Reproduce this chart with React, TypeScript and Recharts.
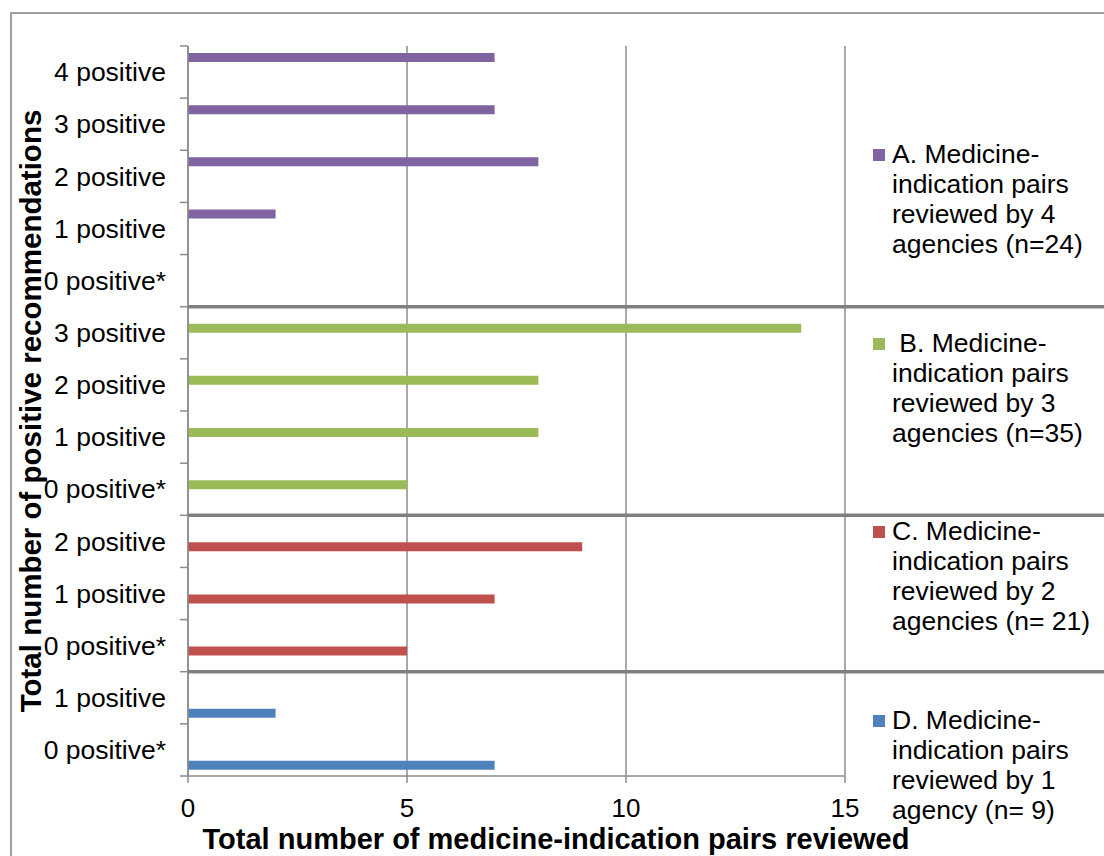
import React from 'react';
import { BarChart, Bar, XAxis, YAxis, CartesianGrid, Legend } from 'recharts';

// ---- data ----
const groupKeys = ['A', 'B', 'C', 'D'];
const groupNames = [
  'A. Medicine-\nindication pairs\nreviewed by 4\nagencies (n=24)',
  ' B. Medicine-\nindication pairs\nreviewed by 3\nagencies (n=35)',
  'C. Medicine-\nindication pairs\nreviewed by 2\nagencies (n= 21)',
  'D. Medicine-\nindication pairs\nreviewed by 1\nagency (n= 9)',
];
const groupColors = ['#8064A2', '#9BBB59', '#C0504D', '#4F81BD'];

const rowsA = ['4 positive', '3 positive', '2 positive', '1 positive', '0 positive*'];
const valuesA = [7, 7, 8, 2, 0];
const rowsB = ['3 positive', '2 positive', '1 positive', '0 positive*'];
const valuesB = [14, 8, 8, 5];
const rowsC = ['2 positive', '1 positive', '0 positive*'];
const valuesC = [9, 7, 5];
const rowsD = ['1 positive', '0 positive*'];
const valuesD = [2, 7];

const xTicks = [0, 5, 10, 15];
const xTitle = 'Total number of medicine-indication pairs reviewed';
const yTitle = 'Total number of positive recommendations';

// ---- build table ----
const groupRows = [rowsA, rowsB, rowsC, rowsD];
const groupValues = [valuesA, valuesB, valuesC, valuesD];
const data: any[] = [];
const labelById: Record<string, string> = {};
const groupStartIds = new Set<string>();
groupKeys.forEach((g, gi) => {
  groupRows[gi].forEach((label, ri) => {
    const id = `${g}${ri}`;
    labelById[id] = label;
    if (ri === 0 && gi > 0) groupStartIds.add(id);
    data.push({ id, [g]: groupValues[gi][ri] });
  });
});
const totalRows = data.length;

// ---- layout ----
const W = 1104;
const H = 856;
const TOP = 46;
const BOTTOM_MARGIN = 20;
const X_AXIS_H = 60;
const Y_AXIS_W = 188;
const PLOT_H = H - TOP - BOTTOM_MARGIN - X_AXIS_H;
const FONT = '"Liberation Sans", Arial, sans-serif';
const GRID = '#8c8c8c';
const SEP = '#808080';

const CatTick = (props: any) => {
  const { y, payload, index } = props;
  const half =
    payload && typeof payload.offset === 'number' && payload.offset > 0
      ? payload.offset
      : PLOT_H / totalRows / 2;
  const label = labelById[payload.value] ?? '';
  const ax = Y_AXIS_W;
  return (
    <g>
      <text
        x={ax - 22}
        y={y}
        dy="0.35em"
        textAnchor="end"
        fontSize={26.5}
        fontFamily={FONT}
        fill="#000"
      >
        {label}
      </text>
      <line x1={ax - 8} x2={ax} y1={y - half} y2={y - half} stroke={GRID} strokeWidth={1.5} />
      {index === totalRows - 1 && (
        <line x1={ax - 8} x2={ax} y1={y + half} y2={y + half} stroke={GRID} strokeWidth={1.5} />
      )}
      {groupStartIds.has(payload.value) && (
        <line x1={ax} x2={W} y1={y - half} y2={y - half} stroke={SEP} strokeWidth={3.5} />
      )}
    </g>
  );
};

const renderLegend = (props: any) => {
  const payload = (props.payload || []).slice();
  payload.sort(
    (a: any, b: any) => groupKeys.indexOf(a.dataKey) - groupKeys.indexOf(b.dataKey)
  );
  return (
    <div
      style={{
        width: 231,
        fontFamily: FONT,
        fontSize: 26.5,
        lineHeight: '30px',
        color: '#000',
      }}
    >
      {payload.map((p: any, i: number) => (
        <div
          key={i}
          style={{
            position: 'relative',
            paddingLeft: 19,
            height: 120,
            marginBottom: i === payload.length - 1 ? 0 : 68.5,
            whiteSpace: 'pre',
          }}
        >
          <span
            style={{
              position: 'absolute',
              left: 0,
              top: 10,
              width: 12,
              height: 12,
              background: p.color,
            }}
          />
          {p.value}
        </div>
      ))}
    </div>
  );
};

export default function App() {
  return (
    <div
      style={{
        position: 'absolute',
        left: 0,
        top: 0,
        width: W,
        height: H,
        overflow: 'hidden',
        background: '#fff',
      }}
    >
      <BarChart
        width={W}
        height={H}
        data={data}
        layout="vertical"
        margin={{ top: TOP, right: 28, bottom: BOTTOM_MARGIN, left: 0 }}
        barSize={9}
        barGap={1}
      >
        <CartesianGrid horizontal={false} vertical stroke={GRID} strokeWidth={1.5} />
        <XAxis
          type="number"
          domain={[0, 15]}
          ticks={xTicks}
          interval={0}
          height={X_AXIS_H}
          tickSize={7}
          tickMargin={16}
          stroke={GRID}
          axisLine={{ stroke: GRID, strokeWidth: 1.5 }}
          tickLine={{ stroke: GRID, strokeWidth: 1.5 }}
          tick={{ fill: '#000', fontSize: 26, fontFamily: FONT }}
        />
        <YAxis
          type="category"
          dataKey="id"
          width={Y_AXIS_W}
          interval={0}
          tickLine={false}
          axisLine={{ stroke: GRID, strokeWidth: 1.5 }}
          tick={<CatTick />}
        />
        {groupKeys.map((g, i) => (
          <Bar
            key={g}
            dataKey={g}
            name={groupNames[i]}
            fill={groupColors[i]}
            isAnimationActive={false}
          />
        ))}
        <Legend
          layout="vertical"
          align="right"
          verticalAlign="top"
          width={231}
          wrapperStyle={{ left: 873, top: 139 }}
          content={renderLegend}
        />
      </BarChart>
      <div
        style={{
          position: 'absolute',
          left: 10,
          top: 12,
          width: W,
          height: H + 20,
          borderTop: '2px solid #a0a0a0',
          borderLeft: '2px solid #a0a0a0',
          pointerEvents: 'none',
        }}
      />
      <svg
        width={W}
        height={H}
        style={{ position: 'absolute', left: 0, top: 0, pointerEvents: 'none' }}
      >
        <text
          transform={`translate(41, ${TOP + PLOT_H / 2}) rotate(-90)`}
          textAnchor="middle"
          fontSize={29.5}
          fontWeight="bold"
          fontFamily={FONT}
          fill="#000"
        >
          {yTitle}
        </text>
        <text
          x={556}
          y={849}
          textAnchor="middle"
          fontSize={29}
          fontWeight="bold"
          fontFamily={FONT}
          fill="#000"
        >
          {xTitle}
        </text>
      </svg>
    </div>
  );
}
